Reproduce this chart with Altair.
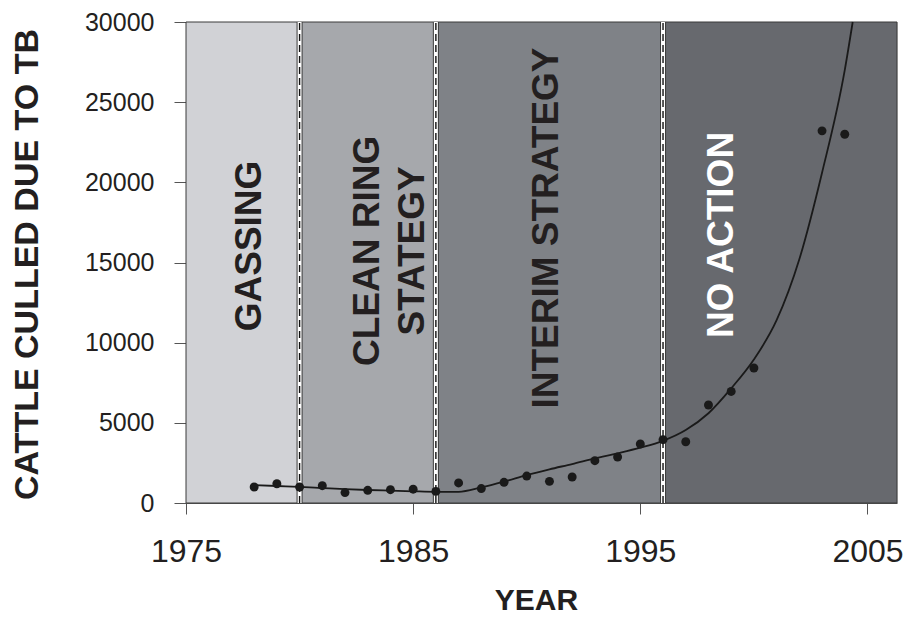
import altair as alt
import pandas as pd

# observed points
pt_year = [1978, 1979, 1980, 1981, 1982, 1983, 1984, 1985, 1986, 1987, 1988, 1989,
           1990, 1991, 1992, 1993, 1994, 1995, 1996, 1997, 1998, 1999, 2000, 2003, 2004]
pt_culled = [1000, 1200, 1000, 1080, 650, 790, 830, 860, 720, 1250, 900, 1290,
             1680, 1350, 1620, 2640, 2870, 3680, 3950, 3820, 6110, 6960, 8420, 23210, 23000]

# fitted curve
fit_year = [1978, 1979, 1980, 1981, 1982, 1983, 1984, 1985, 1986, 1987, 1988, 1989,
            1990, 1991, 1992, 1993, 1994, 1995, 1996, 1997, 1998, 1999, 2000, 2001,
            2002, 2003, 2004, 2004.35]
fit_culled = [1120, 1060, 1000, 930, 860, 810, 770, 730, 700, 700, 970, 1330,
              1740, 2100, 2430, 2780, 3100, 3450, 3880, 4550, 5600, 7150, 8950, 11400,
              15200, 20600, 27000, 30000]

# policy periods
band_start = [1975, 1980, 1986, 1996]
band_end = [1980, 1986, 1996, 2006.3]
band_color = ["#d1d2d6", "#a6a8ac", "#7f8287", "#67696e"]
boundaries = [1980, 1986, 1996]

label_text = ["GASSING", "CLEAN RING\nSTATEGY", "INTERIM STRATEGY", "NO ACTION"]
label_year = [1977.8, 1983.0, 1990.9, 1998.6]
label_val = [16030, 15720, 17150, 16715]
label_color = ["#231f20", "#231f20", "#231f20", "#ffffff"]

x_ticks = [1975, 1985, 1995, 2005]
y_ticks = [0, 5000, 10000, 15000, 20000, 25000, 30000]

FONT = "Liberation Sans, Arial, Helvetica, sans-serif"

pts = pd.DataFrame({"year": pt_year, "culled": pt_culled})
fit = pd.DataFrame({"year": fit_year, "culled": fit_culled})
bands = pd.DataFrame({"start": band_start, "end": band_end, "color": band_color})
bnd = pd.DataFrame({"year": boundaries})
labels = pd.DataFrame({"text": label_text, "year": label_year, "culled": label_val,
                       "color": label_color})

xscale = alt.Scale(domain=[1975, 2006.3], nice=False, zero=False)
yscale = alt.Scale(domain=[0, 30000], nice=False)

xaxis = alt.Axis(values=x_ticks, format="d", title="YEAR", grid=False,
                 labelFont=FONT, labelFontSize=32, labelColor="#231f20",
                 labelPadding=22, tickSize=11, tickColor="#555555", domainColor="#555555",
                 labelFlush=False, labelOverlap=False,
                 titleFont=FONT, titleFontSize=30, titleFontWeight="bold",
                 titleColor="#231f20", titleX=350, titleY=97, titleBaseline="middle")
yaxis = alt.Axis(values=y_ticks, format="d", title="CATTLE CULLED DUE TO TB", grid=False,
                 labelFont=FONT, labelFontSize=25, labelColor="#231f20",
                 labelPadding=20, tickSize=12, tickColor="#555555", domainColor="#555555",
                 titleFont=FONT, titleFontSize=34, titleFontWeight="bold",
                 titleColor="#231f20", titleX=-159, titleY=242, titleAngle=270,
                 titleBaseline="middle", titleAlign="center")

band_layer = alt.Chart(bands).mark_rect(stroke="#3a3a3a", strokeWidth=1).encode(
    x=alt.X("start:Q", scale=xscale, axis=xaxis),
    x2="end:Q",
    y=alt.Y(datum=0, scale=yscale, axis=yaxis),
    y2=alt.datum(30000),
    color=alt.Color("color:N", scale=None),
)

def bline(color, width, dash=None):
    kw = dict(color=color, strokeWidth=width)
    if dash:
        kw["strokeDash"] = dash
    return alt.Chart(bnd).mark_rule(**kw).encode(
        x=alt.X("year:Q", scale=xscale),
        y=alt.Y(datum=0, scale=yscale),
        y2=alt.datum(30000),
    )

edge_dark = bline("#3a3a3a", 6)
edge_white = bline("#ffffff", 4)
edge_dash = bline("#111111", 1.4, [7, 4])

text_layer = alt.Chart(labels).mark_text(
    angle=270, font=FONT, fontSize=37, fontWeight="bold", lineBreak="\n",
    lineHeight=45, align="center", baseline="middle",
).encode(
    x=alt.X("year:Q", scale=xscale),
    y=alt.Y("culled:Q", scale=yscale),
    text="text:N",
    color=alt.Color("color:N", scale=None),
)

line_layer = alt.Chart(fit).mark_line(color="#1a1a1a", strokeWidth=1.8,
                                      interpolate="monotone").encode(
    x=alt.X("year:Q", scale=xscale),
    y=alt.Y("culled:Q", scale=yscale),
)

pt_layer = alt.Chart(pts).mark_circle(color="#1a1a1a", size=80, opacity=1).encode(
    x=alt.X("year:Q", scale=xscale),
    y=alt.Y("culled:Q", scale=yscale),
)

chart = alt.layer(band_layer, edge_dark, edge_white, edge_dash, text_layer,
                  line_layer, pt_layer).properties(
    width=711, height=481,
    autosize=alt.AutoSizeParams(type="none"),
    padding={"left": 178, "top": 14, "right": 6, "bottom": 113},
).configure_view(stroke=None).configure(background="#ffffff")

chart.save("out.html", embed_options={"renderer": "svg", "actions": False})
